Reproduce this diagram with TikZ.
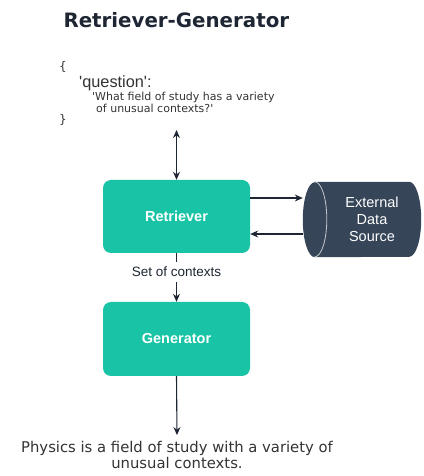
\documentclass[tikz,border=0pt]{standalone}
\usepackage{fontspec}
\setmainfont{DejaVu Sans}
\newfontfamily\arial{Liberation Sans}
\usetikzlibrary{arrows.meta}
\definecolor{teal}{HTML}{19C4A6}
\definecolor{slate}{HTML}{364558}
\definecolor{ink}{HTML}{1E2533}
\definecolor{txt}{HTML}{333333}
\begin{document}
\begin{tikzpicture}[x=1pt,y=1pt,
    box/.style={rectangle, rounded corners=8pt, fill=teal, minimum width=147pt, minimum height=73pt,
        text=white, font={\arial\fontsize{14.5}{16}\selectfont\bfseries}},
    arr/.style={draw=ink, line width=1.1pt, -{Stealth[length=8pt,width=7pt]}}]
    \useasboundingbox (0,0) rectangle (423,476);

    \node[anchor=west, text=ink, font={\fontsize{19.8}{22}\selectfont\bfseries}] (title) at (60,456) {Retriever-Generator};

    % the question
    \node[anchor=west, inner sep=0, text=txt, font={\fontsize{12}{14}\selectfont}] (lb) at (59,409) {\{};
    \node[anchor=west, inner sep=0, text=txt, font={\arial\fontsize{16.3}{18}\selectfont}] (q) at (79,393) {\textquotesingle question\textquotesingle:};
    \node[anchor=west, inner sep=0, text=txt, font={\fontsize{11}{13}\selectfont}] (q1) at (92,379) {\textquotesingle What field of study has a variety};
    \node[anchor=west, inner sep=0, text=txt, font={\fontsize{11}{13}\selectfont}] (q2) at (96,368) {of unusual contexts?\textquotesingle};
    \node[anchor=west, inner sep=0, text=txt, font={\fontsize{12}{14}\selectfont}] (rb) at (59,356) {\}};
    \coordinate (qin) at (176.5,346);

    \node[box] (retr) at (176.5,259.5) {Retriever};
    \node[box, minimum height=74pt] (gen) at (176.5,137) {Generator};

    % external data source, a cylinder lying on its side
    \node[minimum width=118pt, minimum height=75pt, inner sep=0] (ext) at (362,256.5) {};
    \fill[slate] ([xshift=12pt]ext.north west) -- ([xshift=-12pt]ext.north east)
        arc[start angle=90, end angle=-90, x radius=12pt, y radius=37.5pt]
        -- ([xshift=12pt]ext.south west)
        arc[start angle=270, end angle=90, x radius=12pt, y radius=37.5pt] -- cycle;
    \draw[white!70!slate, line width=0.8pt] ([xshift=12pt]ext.north west)
        arc[start angle=90, end angle=-90, x radius=12pt, y radius=37.5pt];
    \node[align=center, text=white, font={\arial\fontsize{14.5}{17}\selectfont}] (extlbl) at ([xshift=10pt]ext.center) {External\\Data\\Source};

    \node[inner sep=0, minimum height=20pt, text=ink, font={\arial\fontsize{13.5}{15}\selectfont}] (ctx) at (176.5,204) {Set of contexts};

    \node[inner xsep=0, inner ysep=6pt, align=center, text=txt, font={\fontsize{14.8}{16}\selectfont}] (ans) at (177,21) {Physics is a field of study with a variety of\\unusual contexts.};

    % connectors
    \draw[arr, {Stealth[length=8pt,width=7pt]}-{Stealth[length=8pt,width=7pt]}] (qin) -- (retr.north);
    \draw[arr] ([yshift=18.5pt]retr.east) -- ([yshift=18.5pt]retr.east -| ext.west);
    \draw[arr] ([yshift=-17.5pt]retr.east -| ext.west) -- ([yshift=-17.5pt]retr.east);
    \draw[draw=ink, line width=1.1pt] (retr.south) -- (ctx.north);
    \draw[arr] (ctx.south) -- (gen.north);
    \draw[arr] (gen.south) -- (ans.north);
\end{tikzpicture}
\end{document}
